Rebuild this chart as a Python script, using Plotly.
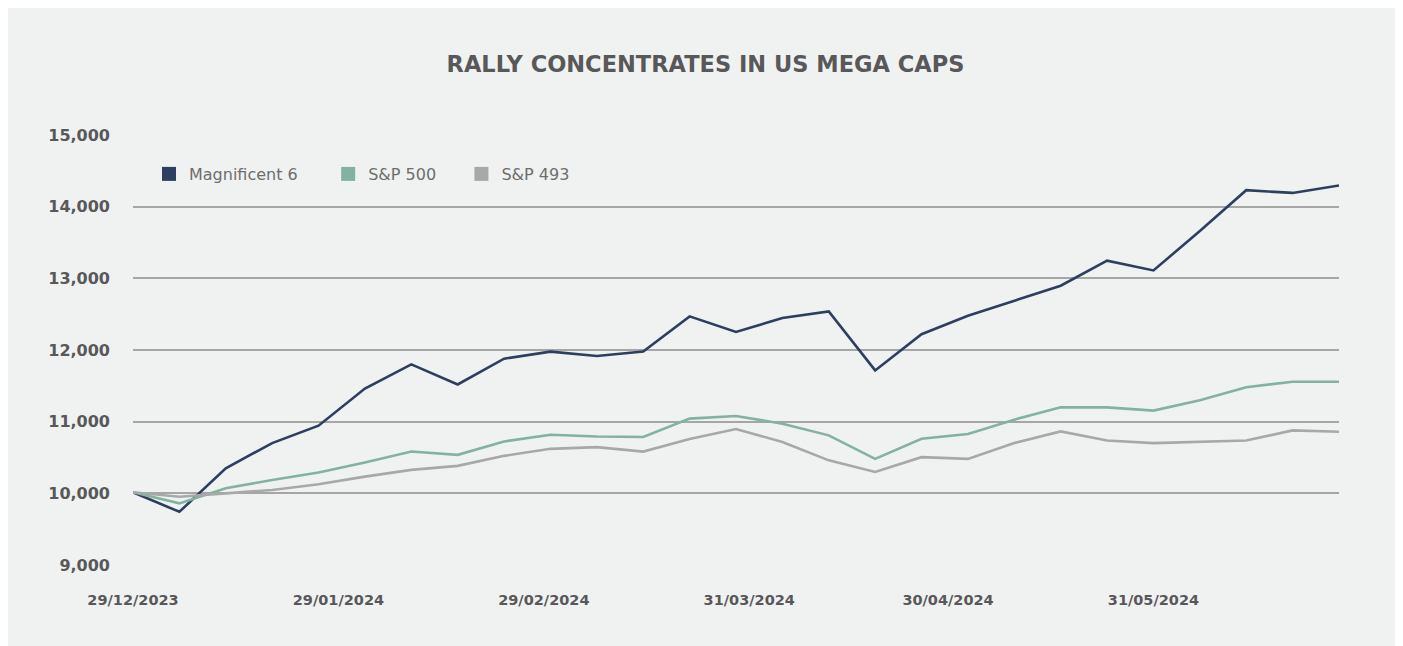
import plotly.graph_objects as go
import pandas as pd

dates = pd.date_range("2023-12-29", periods=27, freq="7D").strftime("%Y-%m-%d").tolist()

mag6 = [10015, 9742, 10350, 10701, 10944, 11463, 11799, 11519, 11879, 11977, 11916,
        11980, 12469, 12251, 12446, 12539, 11715, 12220, 12477, 12687, 12897, 13246,
        13110, 13660, 14230, 14192, 14295]
sp500 = [10015, 9860, 10070, 10187, 10290, 10430, 10583, 10537, 10724, 10818, 10794,
         10787, 11042, 11079, 10972, 10809, 10480, 10761, 10827, 11028, 11200, 11200,
         11154, 11298, 11481, 11557, 11557]
sp493 = [10015, 9953, 10000, 10047, 10126, 10233, 10327, 10383, 10523, 10621, 10645,
         10582, 10759, 10898, 10717, 10460, 10298, 10505, 10481, 10701, 10864, 10738,
         10701, 10715, 10738, 10878, 10860]

series_names = ["Magnificent 6", "S&P 500", "S&P 493"]
legend_labels = ["Magnificent 6" + "\u00a0" * 5, "S&P 500" + "\u00a0" * 4, "S&P 493"]
series_colors = ["#2d3f61", "#82b3a0", "#a8a8ab"]

x_tickvals = ["2023-12-29", "2024-01-29", "2024-02-29", "2024-03-31", "2024-04-30", "2024-05-31"]
x_ticktext = ["29/12/2023", "29/01/2024", "29/02/2024", "31/03/2024", "30/04/2024", "31/05/2024"]
y_tickvals = [9000, 10000, 11000, 12000, 13000, 14000, 15000]
y_ticktext = ["9,000", "10,000", "11,000", "12,000", "13,000", "14,000", "15,000"]

W, H = 1395, 638
ML, MR, MT, MB = 125, 64, 127, 81
ph = H - MT - MB

fig = go.Figure()
for name, vals, col in zip(series_names, [mag6, sp500, sp493], series_colors):
    fig.add_trace(go.Scatter(x=dates, y=vals, mode="lines", name=name,
                             line=dict(color=col, width=2.6), showlegend=False,
                             hoverinfo="x+y+name"))
for label, col in zip(legend_labels, series_colors):
    fig.add_trace(go.Scatter(x=[None], y=[None], mode="markers", name=label,
                             marker=dict(symbol="square", size=14, color=col),
                             showlegend=True, hoverinfo="skip"))

fig.update_layout(
    width=W, height=H,
    paper_bgcolor="#f0f2f1", plot_bgcolor="#f0f2f1",
    margin=dict(l=ML, r=MR, t=MT, b=MB),
    title=dict(text="<b>RALLY CONCENTRATES IN US MEGA CAPS</b>",
               font=dict(family="DejaVu Sans", size=22.5, color="#58585a"),
               x=0.5, xanchor="center", xref="container", y=1 - 56 / H, yanchor="middle"),
    legend=dict(orientation="h", x=16 / (W - ML - MR), xanchor="left",
                y=1 - (166 - MT) / ph, yanchor="middle",
                font=dict(family="DejaVu Sans", size=16, color="#6d6d6d"),
                bgcolor="rgba(0,0,0,0)", itemwidth=30, traceorder="normal"),
    xaxis=dict(type="date", range=[dates[0], dates[-1]], tickvals=x_tickvals, ticktext=x_ticktext,
               showgrid=False, zeroline=False, showline=False, ticks="",
               tickfont=dict(family="DejaVu Sans", size=14.5, color="#58585a", weight="bold"),
               ticklabelstandoff=24),
    yaxis=dict(range=[9000, 15000], tickvals=y_tickvals, ticktext=y_ticktext,
               showgrid=True, gridcolor="#a6a6a6", gridwidth=1.6, zeroline=False, showline=False,
               ticks="", tickfont=dict(family="DejaVu Sans", size=16, color="#58585a", weight="bold"),
               ticklabelstandoff=22),
    hovermode="closest",
)

fig.write_html("out.html")
